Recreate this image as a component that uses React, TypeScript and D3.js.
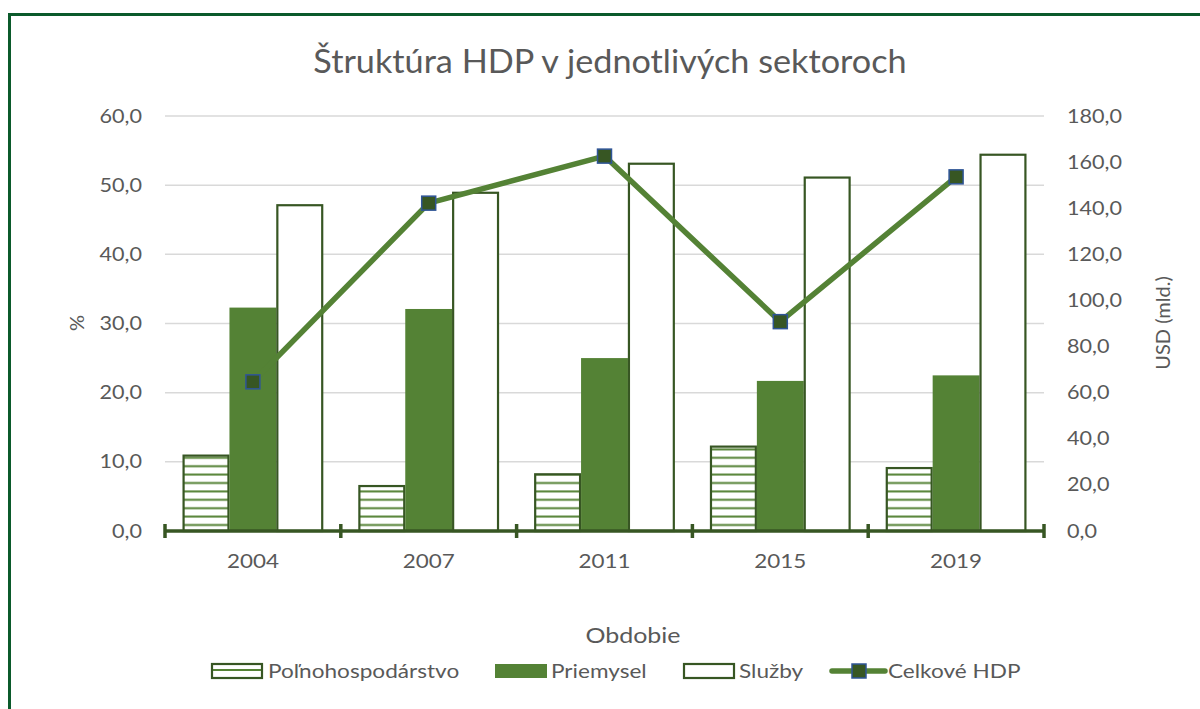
import React from "react";
import * as d3 from "d3";

const categories = ["2004", "2007", "2011", "2015", "2019"];
const polnohospodarstvo = [10.9, 6.5, 8.2, 12.2, 9.1];
const priemysel = [32.3, 32.1, 25.0, 21.7, 22.5];
const sluzby = [47.1, 48.9, 53.1, 51.1, 54.4];
const celkoveHDP = [64.7, 142.2, 162.6, 90.8, 153.6];
const leftTicks = [0, 10, 20, 30, 40, 50, 60];
const rightTicks = [0, 20, 40, 60, 80, 100, 120, 140, 160, 180];
const seriesNames = ["Poľnohospodárstvo", "Priemysel", "Služby", "Celkové HDP"];

const W = 1200;
const H = 709;
const M = { left: 165, right: 1044, top: 116, bottom: 531 };
const DARK = "#375623";
const GREEN = "#548235";
const TEXT = "#595959";
const FONT = "Lato, 'Open Sans', sans-serif";

function T(props: { x: number; y: number; sx: number; size: number; anchor?: string; children: React.ReactNode }) {
  return (
    <text
      transform={`translate(${props.x},${props.y}) scale(${props.sx},1)`}
      textAnchor={props.anchor || "start"}
      fontSize={props.size}
      fill={TEXT}
    >
      {props.children}
    </text>
  );
}

export default function App() {
  const x = d3.scaleBand<string>().domain(categories).range([M.left, M.right]).paddingInner(0).paddingOuter(0);
  const inner = d3.scaleBand<number>().domain([0, 1, 2]).range([0, x.bandwidth()]).paddingOuter(0.375).paddingInner(0);
  const yL = d3.scaleLinear().domain([0, 60]).range([M.bottom, M.top]);
  const yR = d3.scaleLinear().domain([0, 180]).range([M.bottom, M.top]);
  const fmt = (v: number) => v.toFixed(1).replace(".", ",");
  const series = [polnohospodarstvo, priemysel, sluzby];
  const fills = ["url(#hatch)", GREEN, "#ffffff"];
  const strokes = [DARK, GREEN, DARK];
  const line = d3
    .line<number>()
    .x((_, i) => (x(categories[i]) as number) + x.bandwidth() / 2)
    .y((d) => yR(d));
  const boundaries = [...categories.map((c) => x(c) as number), M.right];

  const legendY = 671;
  const legendItems = [
    { x: 211, tx: 268 },
    { x: 495, tx: 551 },
    { x: 683, tx: 739 },
    { x: 832, tx: 888 },
  ];

  return (
    <svg width={W} height={H} style={{ position: "absolute", left: 0, top: 0 }} fontFamily={FONT}>
      <defs>
        <pattern id="hatch" patternUnits="userSpaceOnUse" width={8} height={8.4}>
          <rect width={8} height={8.4} fill="#ffffff" />
          <line x1={0} x2={8} y1={4.2} y2={4.2} stroke={GREEN} strokeWidth={2} />
        </pattern>
      </defs>
      <rect x={0} y={0} width={W} height={H} fill="#ffffff" />
      <path d={`M9.5,${H} V14.5 H${W}`} fill="none" stroke="#0b5a2b" strokeWidth={3} />

      <T x={610} y={73} sx={1.07} size={32} anchor="middle">
        Štruktúra HDP v jednotlivých sektoroch
      </T>

      {leftTicks.map((t) => (
        <g key={"g" + t}>
          {t > 0 && <line x1={M.left} x2={M.right} y1={yL(t)} y2={yL(t)} stroke="#d9d9d9" strokeWidth={1.5} />}
          <T x={142} y={yL(t) + 6.5} sx={1.137} size={19} anchor="end">
            {fmt(t)}
          </T>
        </g>
      ))}
      {rightTicks.map((t) => (
        <T key={"r" + t} x={1067} y={yR(t) + 6.5} sx={1.137} size={19}>
          {fmt(t)}
        </T>
      ))}

      {categories.map((c, ci) =>
        series.map((s, si) => {
          const bx = (x(c) as number) + (inner(si) as number);
          const bw = inner.bandwidth();
          return (
            <rect
              key={c + si}
              x={bx + (si === 1 ? 0 : 1)}
              y={yL(s[ci])}
              width={bw - (si === 1 ? 0 : 2)}
              height={M.bottom - yL(s[ci])}
              fill={fills[si]}
              stroke={strokes[si]}
              strokeWidth={si === 1 ? 0 : 2.2}
            />
          );
        })
      )}

      <line x1={M.left} x2={M.right} y1={M.bottom} y2={M.bottom} stroke={DARK} strokeWidth={3.5} />
      {boundaries.map((b, i) => (
        <line key={"t" + i} x1={b} x2={b} y1={M.bottom - 7} y2={M.bottom + 7} stroke={DARK} strokeWidth={3.5} />
      ))}
      {categories.map((c) => (
        <T key={"x" + c} x={(x(c) as number) + x.bandwidth() / 2} y={568} sx={1.18} size={19} anchor="middle">
          {c}
        </T>
      ))}

      <path d={line(celkoveHDP) || ""} fill="none" stroke={GREEN} strokeWidth={5.5} strokeLinejoin="round" />
      {celkoveHDP.map((v, i) => (
        <rect
          key={"m" + i}
          x={(x(categories[i]) as number) + x.bandwidth() / 2 - 7}
          y={yR(v) - 7}
          width={14}
          height={14}
          fill={DARK}
          stroke="#2f5597"
          strokeWidth={1.5}
        />
      ))}

      <text transform={`translate(84,323) rotate(-90)`} textAnchor="middle" fontSize={20} fill={TEXT}>
        %
      </text>
      <text transform={`translate(1170,323) rotate(-90)`} textAnchor="middle" fontSize={20} fill={TEXT}>
        USD (mld.)
      </text>
      <T x={633} y={643} sx={1.19} size={21} anchor="middle">
        Obdobie
      </T>

      {legendItems.map((it, i) => (
        <g key={"l" + i}>
          {i === 0 && (
            <g>
              <rect x={it.x + 1} y={legendY - 7} width={50} height={14} fill="#ffffff" stroke={DARK} strokeWidth={2.2} />
              <line x1={it.x + 2} x2={it.x + 50} y1={legendY - 1} y2={legendY - 1} stroke={GREEN} strokeWidth={2} />
            </g>
          )}
          {i === 1 && <rect x={it.x} y={legendY - 7} width={52} height={14} fill={GREEN} />}
          {i === 2 && <rect x={it.x + 1} y={legendY - 7} width={50} height={14} fill="#ffffff" stroke={DARK} strokeWidth={2.2} />}
          {i === 3 && (
            <g>
              <line x1={it.x} x2={it.x + 53} y1={legendY} y2={legendY} stroke={GREEN} strokeWidth={5.5} strokeLinecap="round" />
              <rect x={it.x + 20} y={legendY - 7} width={14} height={14} fill={DARK} stroke="#2f5597" strokeWidth={1.5} />
            </g>
          )}
          <T x={it.tx} y={legendY + 7} sx={1.13} size={20}>
            {seriesNames[i]}
          </T>
        </g>
      ))}
    </svg>
  );
}
